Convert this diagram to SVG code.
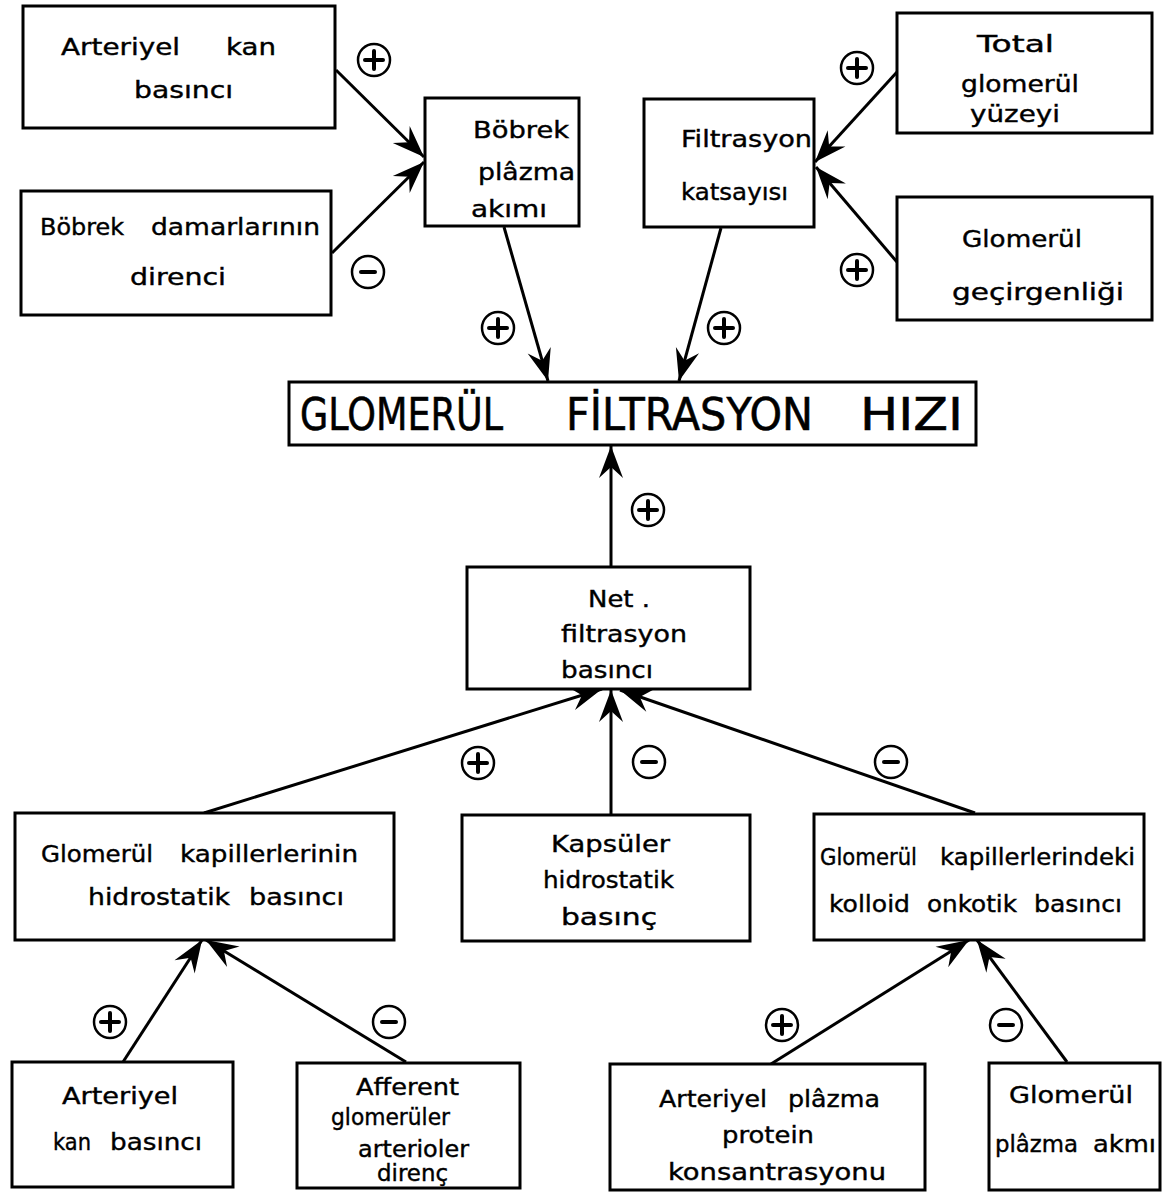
<svg xmlns="http://www.w3.org/2000/svg" width="1168" height="1193" viewBox="0 0 1168 1193">
<defs>
<style>
.box{fill:#fff;stroke:#000;stroke-width:3}
.t{font-family:"DejaVu Sans","Liberation Sans",sans-serif;font-size:23px;fill:#000;stroke:#000;stroke-width:0.4}
.ti{font-family:"DejaVu Sans","Liberation Sans",sans-serif;font-size:45px;fill:#000;stroke:#000;stroke-width:0.6}
.c{fill:none;stroke:#000;stroke-width:3}
.sg{fill:none;stroke:#000;stroke-width:2.5}
.sb{stroke:#000;stroke-width:4;stroke-linecap:round}
</style>
<marker id="ah" markerUnits="userSpaceOnUse" viewBox="-34 -14 36 28" refX="0" refY="0" markerWidth="36" markerHeight="28" orient="auto">
<path d="M0,0 L-32,-12 L-21,0 L-32,12 Z" fill="#000"/>
</marker>
<g id="plus"><circle r="16" class="sg"/><line x1="-9" y1="0" x2="9" y2="0" class="sb"/><line x1="0" y1="-9" x2="0" y2="9" class="sb"/></g>
<g id="minus"><circle r="16" class="sg"/><line x1="-7" y1="0" x2="7" y2="0" class="sb"/></g>
</defs>
<rect width="1168" height="1193" fill="#fff"/>

<g id="connectors">
<line class="c" x1="336" y1="70" x2="424" y2="157" marker-end="url(#ah)"/>
<line class="c" x1="332" y1="253" x2="424" y2="162" marker-end="url(#ah)"/>
<line class="c" x1="504" y1="227" x2="548" y2="381" marker-end="url(#ah)"/>
<line class="c" x1="897" y1="72" x2="815" y2="162" marker-end="url(#ah)"/>
<line class="c" x1="897" y1="262" x2="816" y2="167" marker-end="url(#ah)"/>
<line class="c" x1="721" y1="228" x2="679" y2="381" marker-end="url(#ah)"/>
<line class="c" x1="611" y1="567" x2="611" y2="446" marker-end="url(#ah)"/>
<line class="c" x1="204" y1="813" x2="602" y2="689" marker-end="url(#ah)"/>
<line class="c" x1="611" y1="815" x2="611" y2="690" marker-end="url(#ah)"/>
<line class="c" x1="975" y1="813" x2="620" y2="690" marker-end="url(#ah)"/>
<line class="c" x1="123" y1="1062" x2="202" y2="940" marker-end="url(#ah)"/>
<line class="c" x1="406" y1="1062" x2="206" y2="940" marker-end="url(#ah)"/>
<line class="c" x1="771" y1="1064" x2="969" y2="940" marker-end="url(#ah)"/>
<line class="c" x1="1067" y1="1062" x2="977" y2="940" marker-end="url(#ah)"/>
</g>

<g id="signs">
<use href="#plus" x="374" y="60"/>
<use href="#minus" x="368" y="272"/>
<use href="#plus" x="498" y="328"/>
<use href="#plus" x="857" y="68"/>
<use href="#plus" x="857" y="270"/>
<use href="#plus" x="724" y="328"/>
<use href="#plus" x="648" y="510"/>
<use href="#plus" x="478" y="763"/>
<use href="#minus" x="649" y="762"/>
<use href="#minus" x="891" y="762"/>
<use href="#plus" x="110" y="1022"/>
<use href="#minus" x="389" y="1022"/>
<use href="#plus" x="782" y="1025"/>
<use href="#minus" x="1006" y="1025"/>
</g>

<g id="n-arteriyel-kan">
<rect class="box" x="23" y="6" width="312" height="122"/>
<text class="t" x="61" y="55" textLength="119" lengthAdjust="spacingAndGlyphs">Arteriyel</text>
<text class="t" x="226" y="55" textLength="50" lengthAdjust="spacingAndGlyphs">kan</text>
<text class="t" x="134" y="98" textLength="99" lengthAdjust="spacingAndGlyphs">basıncı</text>
</g>

<g id="n-bobrek-damar">
<rect class="box" x="21" y="191" width="310" height="124"/>
<text class="t" x="40" y="235" textLength="84" lengthAdjust="spacingAndGlyphs">Böbrek</text>
<text class="t" x="151" y="235" textLength="169" lengthAdjust="spacingAndGlyphs">damarlarının</text>
<text class="t" x="130" y="285" textLength="96" lengthAdjust="spacingAndGlyphs">direnci</text>
</g>

<g id="n-bobrek-plazma">
<rect class="box" x="425" y="98" width="154" height="128"/>
<text class="t" x="473" y="138" textLength="96" lengthAdjust="spacingAndGlyphs">Böbrek</text>
<text class="t" x="478" y="180" textLength="97" lengthAdjust="spacingAndGlyphs">plâzma</text>
<text class="t" x="471" y="217" textLength="76" lengthAdjust="spacingAndGlyphs">akımı</text>
</g>

<g id="n-filtrasyon-katsayisi">
<rect class="box" x="644" y="99" width="170" height="128"/>
<text class="t" x="681" y="147" textLength="131" lengthAdjust="spacingAndGlyphs">Filtrasyon</text>
<text class="t" x="681" y="200" textLength="107" lengthAdjust="spacingAndGlyphs">katsayısı</text>
</g>

<g id="n-total">
<rect class="box" x="897" y="13" width="255" height="120"/>
<text class="t" x="977" y="52" textLength="77" lengthAdjust="spacingAndGlyphs">Total</text>
<text class="t" x="961" y="92" textLength="118" lengthAdjust="spacingAndGlyphs">glomerül</text>
<text class="t" x="970" y="122" textLength="90" lengthAdjust="spacingAndGlyphs">yüzeyi</text>
</g>

<g id="n-gecirgenlik">
<rect class="box" x="897" y="197" width="255" height="123"/>
<text class="t" x="962" y="247" textLength="120" lengthAdjust="spacingAndGlyphs">Glomerül</text>
<text class="t" x="952" y="300" textLength="172" lengthAdjust="spacingAndGlyphs">geçirgenliği</text>
</g>

<g id="n-gfr">
<rect class="box" x="289" y="382" width="687" height="63"/>
<text class="ti" x="300" y="430" textLength="203" lengthAdjust="spacingAndGlyphs">GLOMERÜL</text>
<text class="ti" x="566" y="430" textLength="247" lengthAdjust="spacingAndGlyphs">FİLTRASYON</text>
<text class="ti" x="860" y="430" textLength="103" lengthAdjust="spacingAndGlyphs">HIZI</text>
</g>

<g id="n-net">
<rect class="box" x="467" y="567" width="283" height="122"/>
<text class="t" x="588" y="607" textLength="62" lengthAdjust="spacingAndGlyphs">Net .</text>
<text class="t" x="561" y="642" textLength="126" lengthAdjust="spacingAndGlyphs">filtrasyon</text>
<text class="t" x="561" y="678" textLength="92" lengthAdjust="spacingAndGlyphs">basıncı</text>
</g>

<g id="n-glom-hidro">
<rect class="box" x="15" y="813" width="379" height="127"/>
<text class="t" x="41" y="862" textLength="112" lengthAdjust="spacingAndGlyphs">Glomerül</text>
<text class="t" x="180" y="862" textLength="178" lengthAdjust="spacingAndGlyphs">kapillerlerinin</text>
<text class="t" x="88" y="905" textLength="142" lengthAdjust="spacingAndGlyphs">hidrostatik</text>
<text class="t" x="249" y="905" textLength="95" lengthAdjust="spacingAndGlyphs">basıncı</text>
</g>

<g id="n-kapsuler">
<rect class="box" x="462" y="815" width="288" height="126"/>
<text class="t" x="551" y="852" textLength="119" lengthAdjust="spacingAndGlyphs">Kapsüler</text>
<text class="t" x="543" y="888" textLength="131" lengthAdjust="spacingAndGlyphs">hidrostatik</text>
<text class="t" x="561" y="925" textLength="96" lengthAdjust="spacingAndGlyphs">basınç</text>
</g>

<g id="n-kolloid">
<rect class="box" x="814" y="814" width="330" height="126"/>
<text class="t" x="820" y="865" textLength="97" lengthAdjust="spacingAndGlyphs">Glomerül</text>
<text class="t" x="940" y="865" textLength="195" lengthAdjust="spacingAndGlyphs">kapillerlerindeki</text>
<text class="t" x="829" y="912" textLength="81" lengthAdjust="spacingAndGlyphs">kolloid</text>
<text class="t" x="927" y="912" textLength="90" lengthAdjust="spacingAndGlyphs">onkotik</text>
<text class="t" x="1034" y="912" textLength="88" lengthAdjust="spacingAndGlyphs">basıncı</text>
</g>

<g id="n-arteriyel-kan-2">
<rect class="box" x="12" y="1062" width="221" height="125"/>
<text class="t" x="62" y="1104" textLength="116" lengthAdjust="spacingAndGlyphs">Arteriyel</text>
<text class="t" x="53" y="1150" textLength="38" lengthAdjust="spacingAndGlyphs">kan</text>
<text class="t" x="110" y="1150" textLength="92" lengthAdjust="spacingAndGlyphs">basıncı</text>
</g>

<g id="n-afferent">
<rect class="box" x="297" y="1063" width="223" height="125"/>
<text class="t" x="356" y="1095" textLength="103" lengthAdjust="spacingAndGlyphs">Afferent</text>
<text class="t" x="331" y="1125" textLength="119" lengthAdjust="spacingAndGlyphs">glomerüler</text>
<text class="t" x="358" y="1157" textLength="111" lengthAdjust="spacingAndGlyphs">arterioler</text>
<text class="t" x="377" y="1181" textLength="71" lengthAdjust="spacingAndGlyphs">direnç</text>
</g>

<g id="n-plazma-protein">
<rect class="box" x="610" y="1064" width="315" height="126"/>
<text class="t" x="659" y="1107" textLength="108" lengthAdjust="spacingAndGlyphs">Arteriyel</text>
<text class="t" x="788" y="1107" textLength="92" lengthAdjust="spacingAndGlyphs">plâzma</text>
<text class="t" x="722" y="1143" textLength="92" lengthAdjust="spacingAndGlyphs">protein</text>
<text class="t" x="668" y="1180" textLength="218" lengthAdjust="spacingAndGlyphs">konsantrasyonu</text>
</g>

<g id="n-glom-plazma">
<rect class="box" x="989" y="1063" width="171" height="127"/>
<text class="t" x="1009" y="1103" textLength="124" lengthAdjust="spacingAndGlyphs">Glomerül</text>
<text class="t" x="995" y="1152" textLength="83" lengthAdjust="spacingAndGlyphs">plâzma</text>
<text class="t" x="1093" y="1152" textLength="63" lengthAdjust="spacingAndGlyphs">akmı</text>
</g>
</svg>
